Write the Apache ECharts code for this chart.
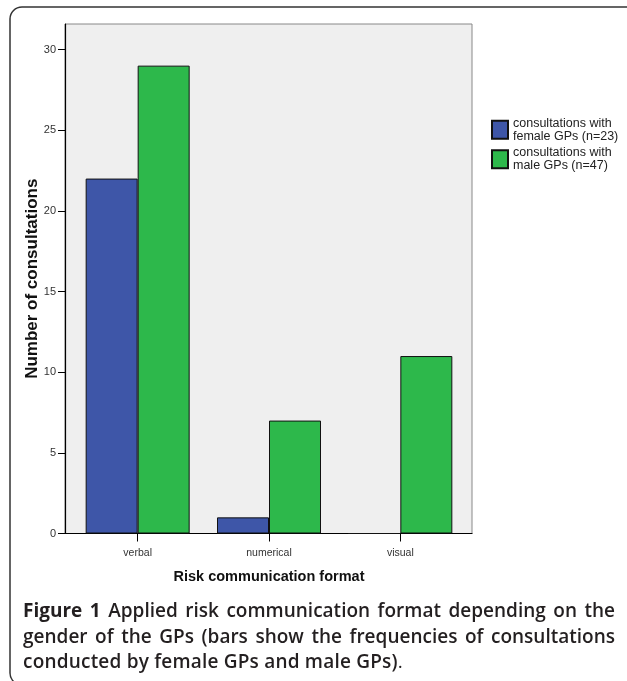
<!DOCTYPE html>
<html>
<head>
<meta charset="utf-8">
<script src="https://cdn.jsdelivr.net/npm/echarts@6/dist/echarts.min.js"></script>
<style>
  html, body { margin: 0; padding: 0; background: #fff; }
  #chart { position: absolute; left: 0; top: 0; width: 627px; height: 681px; }
  #caption { position: absolute; left: 23px; top: 598px; width: 592px;
    font-family: "Open Sans", sans-serif; font-weight: 600; font-size: 19px;
    line-height: 25.5px; color: #231f20; letter-spacing: 0.2px; }
  #caption .j { text-align: justify; text-align-last: justify; white-space: nowrap; letter-spacing: 0; }
  #caption b { font-weight: 700; }
</style>
</head>
<body>
<div id="chart"></div>
<div id="caption">
  <div class="j"><b>Figure 1</b> Applied risk communication format depending on the</div>
  <div class="j">gender of the GPs (bars show the frequencies of consultations</div>
  <div>conducted by female GPs and male GPs)<span style="font-weight:400">.</span></div>
</div>
<script>
const categories = ['verbal', 'numerical', 'visual'];
const femaleName = 'consultations with\nfemale GPs (n=23)';
const maleName = 'consultations with\nmale GPs (n=47)';
const femaleValues = [22, 1, 0];
const maleValues = [29, 7, 11];
const yMax = 30;
const yInterval = 5;

const chart = echarts.init(document.getElementById('chart'), null, { renderer: 'canvas' });
const font = '"Liberation Sans", Arial, sans-serif';
chart.setOption({
  animation: false,
  backgroundColor: '#fff',
  graphic: [{
    type: 'rect', z: -10,
    shape: { x: 10, y: 7, width: 700, height: 678, r: [12, 0, 0, 12] },
    style: { fill: 'none', stroke: '#333', lineWidth: 1.5 }
  }],
  grid: [
    { left: 65, top: 24, width: 407, height: 509.5, show: true, backgroundColor: '#efefef', borderColor: '#888', borderWidth: 1 },
    { left: 72, top: 49.5, width: 394, height: 484 }
  ],
  legend: {
    data: [femaleName, maleName], orient: 'vertical', left: 491, top: 117, padding: 0,
    itemWidth: 16, itemHeight: 18, itemGap: 3.6, icon: 'rect',
    textStyle: { fontFamily: font, fontSize: 12.5, lineHeight: 12.7, color: '#222' },
    selectedMode: false
  },
  xAxis: [
    { gridIndex: 0, type: 'value', min: 0, max: 1, axisLine: { show: true, lineStyle: { color: '#000', width: 1.2 } },
      axisTick: { show: false }, axisLabel: { show: false }, splitLine: { show: false } },
    { gridIndex: 1, type: 'category', data: categories,
      axisLine: { show: false },
      axisTick: { show: true, alignWithLabel: true, length: 8, lineStyle: { color: '#000' } },
      axisLabel: { margin: 14, fontFamily: font, fontSize: 10.5, color: '#333' },
      name: 'Risk communication format', nameLocation: 'middle', nameGap: 36,
      nameTextStyle: { fontFamily: font, fontSize: 14.5, fontWeight: 'bold', color: '#111' } }
  ],
  yAxis: [
    { gridIndex: 0, type: 'value', min: 0, max: 1,
      axisLine: { show: true, lineStyle: { color: '#000', width: 1.2 } },
      axisTick: { show: false }, axisLabel: { show: false }, splitLine: { show: false },
      name: 'Number of consultations', nameLocation: 'middle', nameRotate: 90, nameGap: 24,
      nameTextStyle: { fontFamily: font, fontSize: 17, fontWeight: 'bold', color: '#111' } },
    { gridIndex: 1, type: 'value', min: 0, max: yMax, interval: yInterval, offset: 7,
      axisLine: { show: false },
      axisTick: { show: true, length: 7, lineStyle: { color: '#000' } },
      axisLabel: { margin: 9, fontFamily: font, fontSize: 11, color: '#333' },
      splitLine: { show: false } }
  ],
  series: [
    { name: femaleName, type: 'bar', xAxisIndex: 1, yAxisIndex: 1, data: femaleValues,
      barWidth: 52, barGap: '0%',
      itemStyle: { color: '#3e56a8', borderColor: '#111', borderWidth: 1 } },
    { name: maleName, type: 'bar', xAxisIndex: 1, yAxisIndex: 1, data: maleValues,
      barWidth: 52, barGap: '0%',
      itemStyle: { color: '#2db84b', borderColor: '#111', borderWidth: 1 } }
  ]
});
</script>
</body>
</html>
